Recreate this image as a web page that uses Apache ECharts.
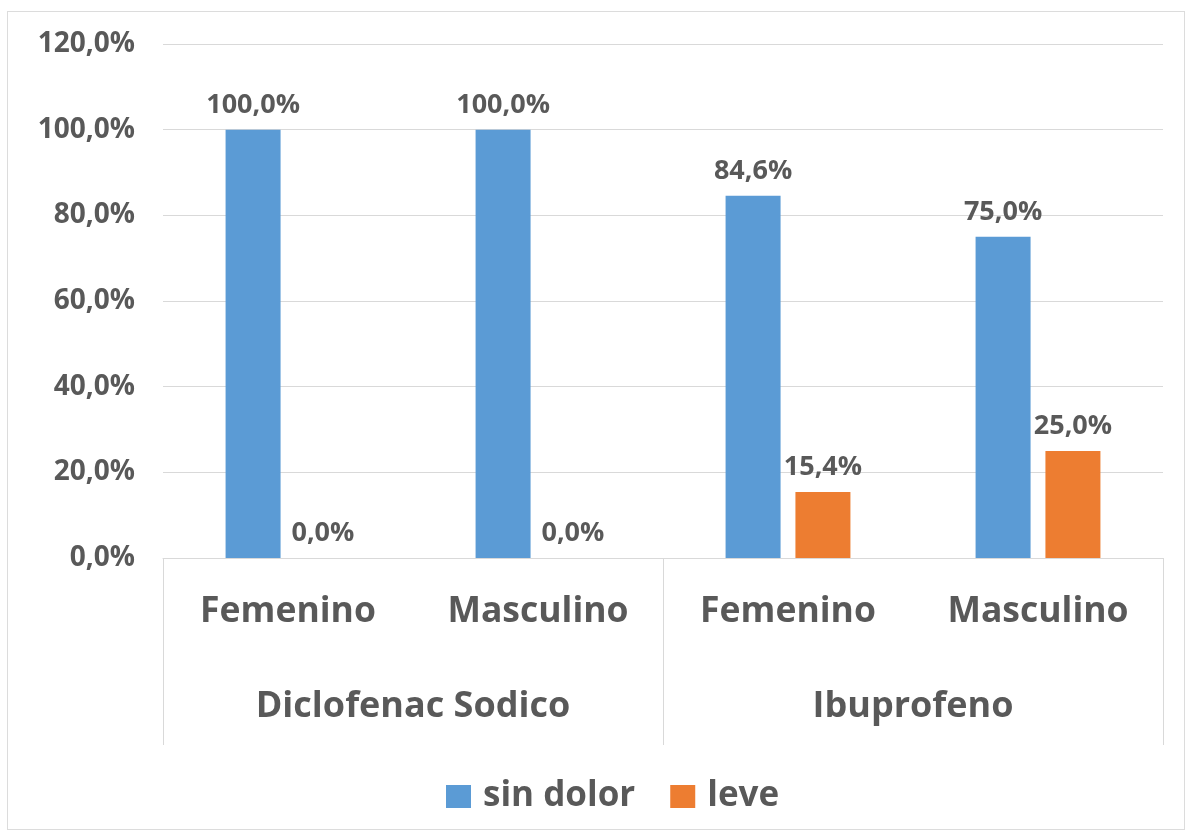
<!DOCTYPE html>
<html>
<head>
<meta charset="utf-8">
<script src="https://cdn.jsdelivr.net/npm/echarts@6/dist/echarts.min.js"></script>
<style>
  html, body { margin: 0; padding: 0; background: #ffffff; }
  #frame { position: absolute; left: 7px; top: 11px; width: 1178px; height: 819px; border: 1px solid #dcdcdc; box-sizing: border-box; }
  #chart { position: absolute; left: 0; top: 0; width: 1191px; height: 837px; }
</style>
</head>
<body>
<div id="frame"></div>
<div id="chart"></div>
<script>
// Pain level after treatment, by drug and sex (percent of patients)
const categories = ['Femenino', 'Masculino', 'Femenino', 'Masculino'];
const drugGroups = ['Diclofenac Sodico', 'Ibuprofeno'];
const seriesNames = ['sin dolor', 'leve'];
const sinDolor = [100.0, 100.0, 84.6, 75.0];
const leve = [0.0, 0.0, 15.4, 25.0];

const TEXT = '#595959';
const LINE = '#d9d9d9';
const FONT = '"Open Sans", "Noto Sans", sans-serif';

const pct = v => Number(v).toFixed(1).replace('.', ',') + '%';

const chart = echarts.init(document.getElementById('chart'), null, { renderer: 'canvas' });

const gridBox = { left: 163, right: 28, top: 44, bottom: 279 };

const barLabel = {
  show: true,
  position: 'top',
  distance: 11,
  color: TEXT,
  fontFamily: FONT,
  fontWeight: 'bold',
  fontSize: 27,
  formatter: p => pct(p.value)
};

chart.setOption({
  animation: false,
  textStyle: { fontFamily: FONT },
  grid: [
    Object.assign({}, gridBox),
    Object.assign({}, gridBox)
  ],
  legend: {
    data: seriesNames,
    left: 441,
    top: 774,
    itemWidth: 25,
    itemHeight: 23,
    itemGap: 35,
    icon: 'rect',
    textStyle: { color: TEXT, fontFamily: FONT, fontWeight: 'bold', fontSize: 35, padding: [0, 0, 0, 7] }
  },
  xAxis: [
    {
      type: 'category',
      gridIndex: 0,
      data: categories,
      axisLine: { show: true, lineStyle: { color: LINE, width: 1 } },
      axisTick: { show: false },
      axisLabel: { color: TEXT, fontFamily: FONT, fontWeight: 'bold', fontSize: 35.5, margin: 36, interval: 0 }
    },
    {
      type: 'category',
      gridIndex: 1,
      data: drugGroups,
      position: 'bottom',
      axisLine: { show: false },
      axisTick: { show: true, length: 187, lineStyle: { color: LINE, width: 1 } },
      axisLabel: { color: TEXT, fontFamily: FONT, fontWeight: 'bold', fontSize: 36, margin: 131, interval: 0 }
    }
  ],
  yAxis: [
    {
      type: 'value',
      gridIndex: 0,
      min: 0,
      max: 120,
      interval: 20,
      axisLine: { show: false },
      axisTick: { show: false },
      splitLine: { lineStyle: { color: LINE, width: 1 } },
      axisLabel: { color: TEXT, fontFamily: FONT, fontWeight: 'bold', fontSize: 28, margin: 28, formatter: v => pct(v) }
    },
    {
      type: 'value',
      gridIndex: 1,
      min: 0,
      max: 120,
      show: false
    }
  ],
  series: [
    {
      name: seriesNames[0],
      type: 'bar',
      xAxisIndex: 0,
      yAxisIndex: 0,
      data: sinDolor,
      barWidth: 55,
      barGap: '27%',
      itemStyle: { color: '#5b9bd5' },
      label: barLabel
    },
    {
      name: seriesNames[1],
      type: 'bar',
      xAxisIndex: 0,
      yAxisIndex: 0,
      data: leve,
      barWidth: 55,
      barGap: '27%',
      itemStyle: { color: '#ed7d31' },
      label: barLabel
    }
  ]
});
</script>
</body>
</html>
